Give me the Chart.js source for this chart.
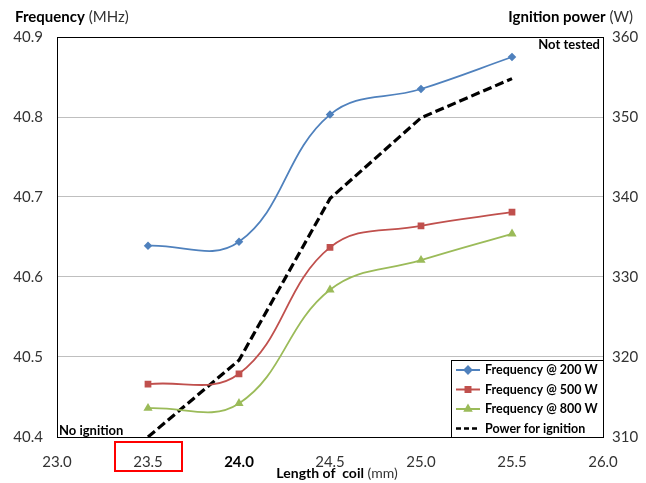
<!DOCTYPE html>
<html>
<head>
<meta charset="utf-8">
<script src="https://cdn.jsdelivr.net/npm/chart.js@4"></script>
<style>
  html, body { margin: 0; padding: 0; background: #fff; }
</style>
</head>
<body>
<canvas id="grafico" width="646" height="483"></canvas>
<script>
// Datos
var longitudes = [23.5, 24.0, 24.5, 25.0, 25.5];
var frec200 = [40.639, 40.644, 40.803, 40.835, 40.875];
var frec500 = [40.466, 40.479, 40.637, 40.664, 40.681];
var frec800 = [40.436, 40.442, 40.584, 40.621, 40.654];
var potencia = [310, 319.6, 339.8, 349.9, 354.8];

var ticksX = [23.0, 23.5, 24.0, 24.5, 25.0, 25.5, 26.0];
var ticksFrec = [40.4, 40.5, 40.6, 40.7, 40.8, 40.9];
var ticksPot = [310, 320, 330, 340, 350, 360];

var etiquetas = ['Frequency @ 200 W', 'Frequency @ 500 W', 'Frequency @ 800 W', 'Power for ignition'];
var colores = ['#4F81BD', '#C0504D', '#9BBB59', '#000000'];

var fuente = 'Lato, "Open Sans", sans-serif';

function puntos(ys) {
  return longitudes.map(function (x, i) { return { x: x, y: ys[i] }; });
}

// Marco, textos, leyenda y recuadro rojo
var extras = {
  id: 'extras',
  afterDraw: function (chart) {
    var ctx = chart.ctx;
    var a = chart.chartArea;
    ctx.save();

    // marco del area
    ctx.strokeStyle = '#000';
    ctx.lineWidth = 1;
    ctx.strokeRect(a.left + 0.5, a.top + 0.5, a.right - a.left, a.bottom - a.top);

    // titulos de ejes
    ctx.fillStyle = '#000';
    ctx.textBaseline = 'middle';
    ctx.textAlign = 'left';
    ctx.font = 'bold 15px ' + fuente;
    ctx.fillText('Frequency', 15, 17);
    var w = ctx.measureText('Frequency').width;
    ctx.font = '15px ' + fuente;
    ctx.fillStyle = '#333';
    ctx.fillText(' (MHz)', 15 + w, 17);

    ctx.textAlign = 'right';
    ctx.font = '15px ' + fuente;
    var w2 = ctx.measureText(' (W)').width;
    ctx.fillText(' (W)', 633, 17);
    ctx.fillStyle = '#000';
    ctx.font = 'bold 15px ' + fuente;
    ctx.fillText('Ignition power', 633 - w2, 17);

    ctx.textAlign = 'left';
    ctx.font = 'bold 14px ' + fuente;
    var t1 = 'Length of  coil';
    var w3 = ctx.measureText(t1).width;
    ctx.font = '14px ' + fuente;
    var t2 = ' (mm)';
    var w4 = ctx.measureText(t2).width;
    var x0 = (a.left + a.right) / 2 + 7 - (w3 + w4) / 2;
    ctx.font = 'bold 14px ' + fuente;
    ctx.fillText(t1, x0, 473);
    ctx.font = '14px ' + fuente;
    ctx.fillStyle = '#333';
    ctx.fillText(t2, x0 + w3, 473);

    // notas
    ctx.fillStyle = '#000';
    ctx.font = 'bold 13px ' + fuente;
    ctx.textAlign = 'left';
    ctx.fillText('No ignition', a.left + 2, a.bottom - 6);
    ctx.textAlign = 'right';
    ctx.fillText('Not tested', a.right - 3, a.top + 8);

    // leyenda
    var lw = 152, lh = 77;
    var lx = a.right - lw, ly = a.bottom - lh;
    ctx.fillStyle = '#fff';
    ctx.fillRect(lx, ly, lw, lh);
    ctx.strokeStyle = '#000';
    ctx.lineWidth = 1;
    ctx.strokeRect(lx + 0.5, ly + 0.5, lw, lh);
    var estilos = ['rectRot', 'rect', 'triangle', null];
    for (var i = 0; i < etiquetas.length; i++) {
      var yy = ly + 10 + i * 19.5;
      ctx.strokeStyle = colores[i];
      ctx.fillStyle = colores[i];
      if (i === 3) {
        ctx.lineWidth = 2.5;
        ctx.setLineDash([5, 3]);
      } else {
        ctx.lineWidth = 2;
        ctx.setLineDash([]);
      }
      ctx.beginPath();
      ctx.moveTo(lx + 5, yy);
      ctx.lineTo(lx + 29, yy);
      ctx.stroke();
      ctx.setLineDash([]);
      if (estilos[i]) {
        Chart.helpers.drawPoint(ctx, { pointStyle: estilos[i], radius: 3.5, borderWidth: 1 }, lx + 17, yy);
      }
      ctx.fillStyle = '#000';
      ctx.textAlign = 'left';
      ctx.font = 'bold 12.5px ' + fuente;
      ctx.fillText(etiquetas[i], lx + 34, yy);
    }

    // recuadro rojo en 23.5
    var px = chart.scales.x.getPixelForValue(23.5);
    ctx.strokeStyle = '#FF0000';
    ctx.lineWidth = 2;
    ctx.strokeRect(px - 33, a.bottom + 5, 67, 29);

    ctx.restore();
  }
};

var config = {
  type: 'line',
  data: {
    datasets: [
      {
        label: etiquetas[0], data: puntos(frec200), yAxisID: 'y',
        borderColor: colores[0], backgroundColor: colores[0], borderWidth: 1.8,
        pointStyle: 'rectRot', pointRadius: 3, tension: 0.4
      },
      {
        label: etiquetas[1], data: puntos(frec500), yAxisID: 'y',
        borderColor: colores[1], backgroundColor: colores[1], borderWidth: 1.8,
        pointStyle: 'rect', pointRadius: 3.5, tension: 0.4
      },
      {
        label: etiquetas[2], data: puntos(frec800), yAxisID: 'y',
        borderColor: colores[2], backgroundColor: colores[2], borderWidth: 1.8,
        pointStyle: 'triangle', pointRadius: 3.5, tension: 0.4
      },
      {
        label: etiquetas[3], data: puntos(potencia), yAxisID: 'y1',
        borderColor: colores[3], borderWidth: 3.2, borderDash: [9, 4],
        pointRadius: 0, tension: 0
      }
    ]
  },
  options: {
    responsive: false,
    animation: false,
    layout: { padding: { top: 37, left: 0, right: 0, bottom: 0 } },
    plugins: { legend: { display: false }, tooltip: { enabled: false } },
    scales: {
      x: {
        type: 'linear', min: 23.0, max: 26.0,
        afterBuildTicks: function (s) { s.ticks = ticksX.map(function (v) { return { value: v }; }); },
        afterFit: function (s) { s.height = 46; },
        grid: { display: false },
        border: { display: false },
        ticks: {
          padding: 8,
          color: function (c) { return c.tick && c.tick.value === 24 ? '#000' : '#333'; },
          callback: function (v) { return v.toFixed(1); },
          font: function (c) {
            return { family: fuente, size: 15, weight: c.tick && c.tick.value === 24 ? 'bold' : 'normal' };
          }
        }
      },
      y: {
        position: 'left', min: 40.4, max: 40.9,
        afterBuildTicks: function (s) { s.ticks = ticksFrec.map(function (v) { return { value: v }; }); },
        afterFit: function (s) { s.width = 57; },
        grid: { color: '#BFBFBF', lineWidth: 1, drawTicks: false },
        border: { display: false },
        ticks: {
          padding: 14, color: '#333',
          font: { family: fuente, size: 15 },
          callback: function (v) { return v.toFixed(1); }
        }
      },
      y1: {
        position: 'right', min: 310, max: 360,
        afterBuildTicks: function (s) { s.ticks = ticksPot.map(function (v) { return { value: v }; }); },
        afterFit: function (s) { s.width = 43; },
        grid: { display: false, drawTicks: false },
        border: { display: false },
        ticks: {
          padding: 9, color: '#333',
          font: { family: fuente, size: 15 }
        }
      }
    }
  },
  plugins: [extras]
};

var grafico = new Chart(document.getElementById('grafico').getContext('2d'), config);
</script>
</body>
</html>
